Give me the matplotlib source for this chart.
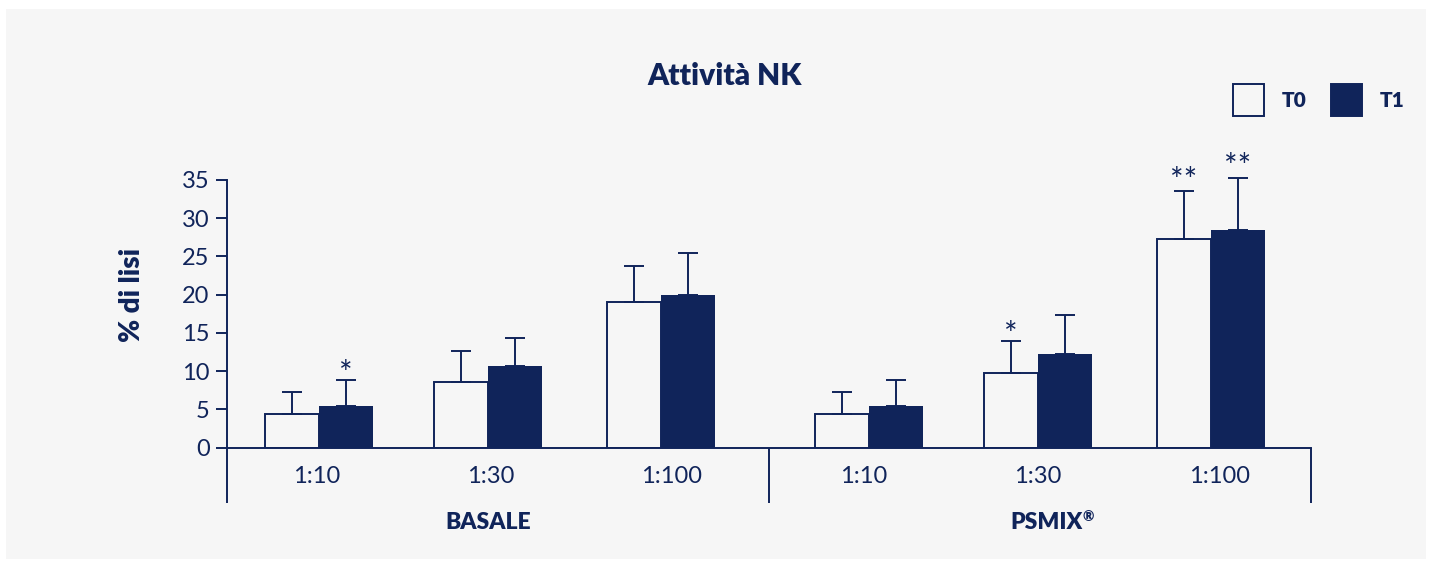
import matplotlib
matplotlib.use('Agg')
import matplotlib.pyplot as plt
from matplotlib.patches import Rectangle
import numpy as np

# ---------------- data ----------------
groups = ['BASALE', 'PSMIX®']
dilutions = ['1:10', '1:30', '1:100']
series_labels = ['T0', 'T1']

t0_basale = [4.4, 8.6, 19.1]
t1_basale = [5.5, 10.7, 20.0]
t0_psmix = [4.4, 9.8, 27.3]
t1_psmix = [5.5, 12.3, 28.4]

sd_t0_basale = [2.9, 4.0, 4.6]
sd_t1_basale = [3.4, 3.6, 5.5]
sd_t0_psmix = [2.9, 4.1, 6.2]
sd_t1_psmix = [3.4, 5.1, 6.9]

sig_t0_basale = ['', '', '']
sig_t1_basale = ['*', '', '']
sig_t0_psmix = ['', '*', '**']
sig_t1_psmix = ['', '', '**']

yticks = [0, 5, 10, 15, 20, 25, 30, 35]
title = 'Attività NK'
ylabel = '% di lisi'

# ---------------- style / layout ----------------
W, H = 1433, 566
NAVY = '#10245a'
BG = '#f6f6f6'
FONT = ['Lato', 'DejaVu Sans']
plt.rcParams['font.family'] = FONT

def fx(px):
    return px / W

def fy(py):
    return 1 - py / H

fig = plt.figure(figsize=(W / 100, H / 100), dpi=100, facecolor='white')
fig.add_artist(Rectangle((fx(6), fy(559)), fx(1426) - fx(6), fy(9) - fy(559),
                         transform=fig.transFigure, facecolor=BG, edgecolor='none', zorder=0))

ax_left, ax_right, ax_top, ax_bot = 227.3, 1311.3, 180.0, 447.7
ax = fig.add_axes([fx(ax_left), fy(ax_bot), (ax_right - ax_left) / W, (ax_bot - ax_top) / H])
ax.set_facecolor('none')
ax.set_xlim(0, 6)
ax.set_ylim(0, 35)

pair_centers = [0.508, 1.443, 2.40, 3.551, 4.487, 5.445]
label_x = [0.495, 1.457, 2.46, 3.524, 4.487, 5.493]
group_label_x = [1.443, 4.57]
bar_w = 0.298
LW = 1.4

t0_all = t0_basale + t0_psmix
t1_all = t1_basale + t1_psmix
sd0_all = sd_t0_basale + sd_t0_psmix
sd1_all = sd_t1_basale + sd_t1_psmix
sig0_all = sig_t0_basale + sig_t0_psmix
sig1_all = sig_t1_basale + sig_t1_psmix

xc = np.array(pair_centers)
x0 = xc - bar_w / 2
x1 = xc + bar_w / 2

ax.bar(x0, t0_all, width=bar_w, facecolor=BG, edgecolor=NAVY, linewidth=LW, zorder=2)
ax.bar(x1, t1_all, width=bar_w, facecolor=NAVY, edgecolor='none', linewidth=0, zorder=2)

for xs, ms, sds in [(x0, t0_all, sd0_all), (x1, t1_all, sd1_all)]:
    eb = ax.errorbar(xs, ms, yerr=[np.zeros(len(ms)), sds], fmt='none', ecolor=NAVY,
                     elinewidth=LW, capsize=7.4, capthick=LW, zorder=3)
    for art in eb.lines[1] + eb.lines[2]:
        art.set_clip_on(False)

for xs, ms, sds, sigs in [(x0, t0_all, sd0_all, sig0_all), (x1, t1_all, sd1_all, sig1_all)]:
    for x, m, s, g in zip(xs, ms, sds, sigs):
        if g:
            off = -2.9 if len(g) == 1 else 0.4
            ax.annotate(g, (x, m + s), xytext=(0, off), textcoords='offset points',
                        ha='center', va='baseline', fontsize=23, color=NAVY,
                        annotation_clip=False)

# spines & ticks
for side in ['top', 'right']:
    ax.spines[side].set_visible(False)
for side in ['left', 'bottom']:
    ax.spines[side].set_color(NAVY)
    ax.spines[side].set_linewidth(LW)
ax.set_xticks([])
ax.set_yticks(yticks)
ax.set_yticklabels([str(t) for t in yticks])
ax.tick_params(axis='y', direction='out', length=7.8, width=LW, color=NAVY,
               labelcolor=NAVY, labelsize=17, pad=5)

# group separators below baseline
sep_bottom = -(503.3 - ax_bot) / (ax_bot - ax_top)
for xs in [0, 3, 6]:
    ax.plot([xs, xs], [0, sep_bottom], transform=ax.get_xaxis_transform(),
            color=NAVY, lw=LW, clip_on=False, solid_capstyle='butt')

# category and group labels
cat_y = -(482.7 - ax_bot) / (ax_bot - ax_top)
for x, lab in zip(label_x, dilutions + dilutions):
    ax.text(x, cat_y, lab, transform=ax.get_xaxis_transform(), ha='center',
            va='baseline', fontsize=17, color=NAVY)
grp_y = -(529.3 - ax_bot) / (ax_bot - ax_top)
for x, lab in zip(group_label_x, groups):
    if lab.endswith('®'):
        base = ax.text(x - 0.035, grp_y, lab[:-1], transform=ax.get_xaxis_transform(),
                       ha='center', va='baseline', fontsize=16.5, fontweight='heavy', color=NAVY)
        ax.annotate('®', xy=(1.0, 0.78), xycoords=base, ha='left', va='center',
                    fontsize=10, fontweight='heavy', color=NAVY)
    else:
        ax.text(x, grp_y, lab, transform=ax.get_xaxis_transform(), ha='center',
                va='baseline', fontsize=16.5, fontweight='heavy', color=NAVY)

# title and y label
fig.text(fx(724.7), fy(85), title, ha='center', va='baseline', fontsize=21.5,
         fontweight='heavy', color=NAVY)
fig.text(fx(132), fy(295), ylabel, ha='center', va='center', rotation=90,
         fontsize=20, fontweight='heavy', color=NAVY)

# legend
box_specs = [(1232.7, BG), (1331.0, NAVY)]
text_x = [1282, 1380]
for (bx, fc), tx, lab in zip(box_specs, text_x, series_labels):
    fig.add_artist(Rectangle((fx(bx), fy(115.7)), 31.3 / W, 31.4 / H, transform=fig.transFigure,
                             facecolor=fc, edgecolor=NAVY, linewidth=LW, zorder=3))
    fig.text(fx(tx), fy(106.7), lab, ha='left', va='baseline', fontsize=15,
             fontweight='heavy', color=NAVY)

fig.savefig('out.png', dpi=100, facecolor='white')
